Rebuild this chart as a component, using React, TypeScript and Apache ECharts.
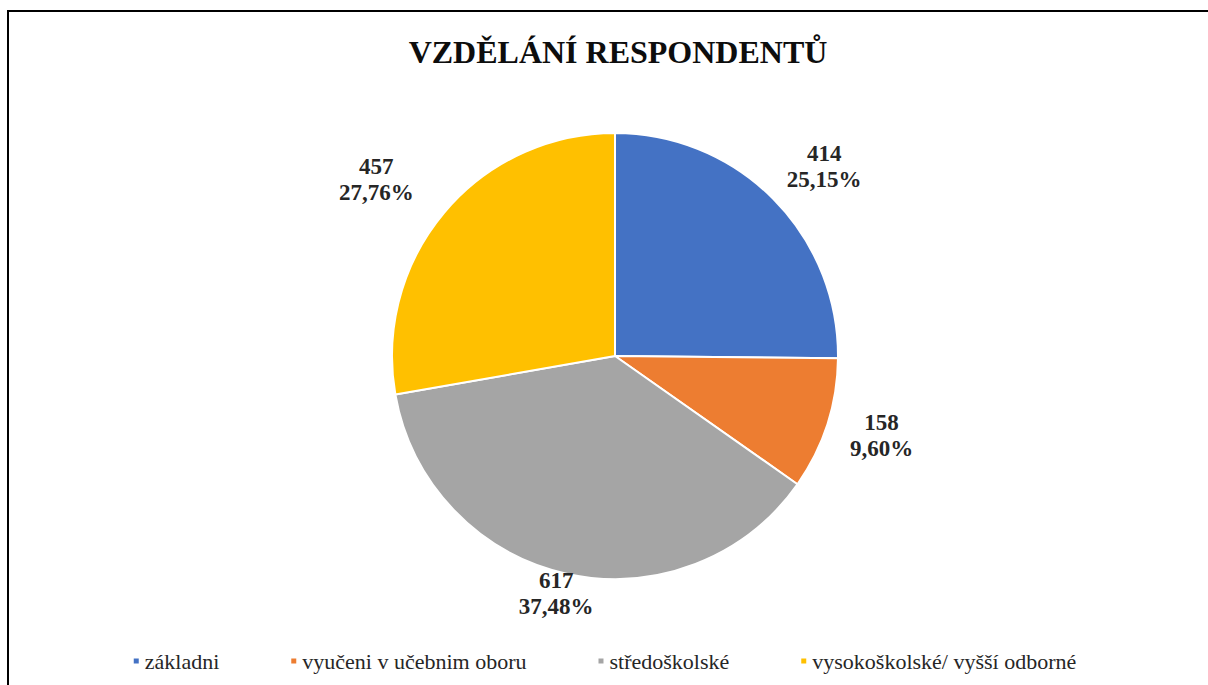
import React, { useEffect, useRef } from "react";
import * as echarts from "echarts";

const TITLE = "VZDĚLÁNÍ RESPONDENTŮ";
const CATEGORIES = [
  "základni",
  "vyučeni v učebnim oboru",
  "středoškolské",
  "vysokoškolské/ vyšší odborné",
];
const VALUES = [414, 158, 617, 457];
const COLORS = ["#4472C4", "#ED7D31", "#A5A5A5", "#FFC000"];

// label placement (style): radial distance from centre and small angular nudge
const LABEL_DIST = [282, 278, 245, 297];
const LABEL_NUDGE_DEG = [2.6, -1.3, 1.3, -3.5];

const SERIF = "'Liberation Serif', 'Times New Roman', serif";

export default function App() {
  const ref = useRef<HTMLDivElement>(null);

  useEffect(() => {
    if (!ref.current) return;
    const chart = echarts.init(ref.current, undefined, { renderer: "svg" });
    const cx = 615;
    const cy = 356;
    const R = 223;
    const total = VALUES.reduce((a, b) => a + b, 0);
    const mids: number[] = [];
    let acc = 0;
    VALUES.forEach((v) => {
      mids.push(((acc + v / 2) / total) * Math.PI * 2);
      acc += v;
    });

    chart.setOption({
      animation: false,
      backgroundColor: "#ffffff",
      title: {
        text: TITLE,
        left: 613,
        top: 31,
        textAlign: "center",
        textStyle: {
          fontFamily: SERIF,
          fontWeight: "bold",
          fontSize: 32,
          color: "#0d0d0d",
        },
      },
      color: COLORS,
      legend: {
        data: CATEGORIES,
        left: "center",
        top: 645,
        icon: "rect",
        itemWidth: 7,
        itemHeight: 7,
        itemGap: 70,
        textStyle: {
          fontFamily: SERIF,
          fontSize: 22,
          color: "#262626",
        },
      },
      graphic: [
        {
          type: "rect",
          shape: { x: 8, y: 11, width: 1220, height: 700 },
          style: { fill: "none", stroke: "#000000", lineWidth: 2 },
          silent: true,
        },
      ],
      series: [
        {
          type: "pie",
          center: [cx, cy],
          radius: R,
          startAngle: 90,
          clockwise: true,
          data: CATEGORIES.map((name, i) => ({ name, value: VALUES[i] })),
          itemStyle: { borderColor: "#ffffff", borderWidth: 2 },
          label: {
            show: true,
            position: "outside",
            formatter: (p: any) =>
              `${p.value}\n${(p.value / total * 100).toFixed(2).replace(".", ",")}%`,
            fontFamily: SERIF,
            fontWeight: "bold",
            fontSize: 23,
            lineHeight: 26,
            color: "#262626",
            align: "center",
          },
          labelLine: { show: false },
          labelLayout: (params: any) => {
            const i = params.dataIndex;
            const a = mids[i] + (LABEL_NUDGE_DEG[i] * Math.PI) / 180;
            const d = LABEL_DIST[i];
            return {
              x: cx + Math.sin(a) * d,
              y: cy - Math.cos(a) * d,
              align: "center",
              verticalAlign: "middle",
            };
          },
        },
      ],
    });
    return () => chart.dispose();
  }, []);

  return (
    <div
      ref={ref}
      style={{
        position: "fixed",
        left: 0,
        top: 0,
        width: 1208,
        height: 685,
        background: "#fff",
      }}
    />
  );
}
